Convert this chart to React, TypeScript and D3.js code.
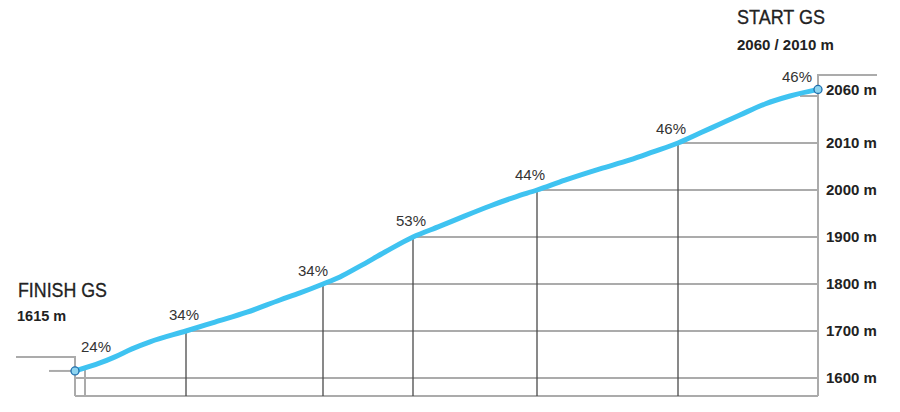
import React from "react";
import * as d3 from "d3";

// Course profile: distance from finish (schematic units) and elevation (m)
const profileDistance = [0, 25, 40, 57, 75, 111, 140, 172, 205, 225, 248, 265, 285, 310, 338, 365, 390, 415, 440, 462, 490, 525, 555, 578, 603, 625, 645, 665, 690, 715, 743];
const profileElevation = [1615, 1632, 1645, 1662, 1677, 1700, 1719, 1740, 1766, 1781, 1800, 1815, 1838, 1868, 1900, 1923, 1945, 1966, 1985, 2000, 2002.1, 2004.5, 2006.4, 2008.1, 2010, 2020.6, 2030.2, 2039.8, 2051.5, 2060, 2067];

// Elevation levels (schematic, evenly spaced)
const levelValues = [1600, 1700, 1800, 1900, 2000, 2010, 2060];
const levelLabels = ["1600 m", "1700 m", "1800 m", "1900 m", "2000 m", "2010 m", "2060 m"];
const levelStart = [0, 111, 248, 338, 462, 603, 725];

// Vertical markers
const markerDistance = [10, 111, 248, 338, 462, 603];

// Gradient labels
const slopeLabels = ["24%", "34%", "34%", "53%", "44%", "46%", "46%"];
const slopeDistance = [21, 109, 238, 336, 455, 596, 722];

const finishTitle = "FINISH GS";
const finishSub = "1615 m";
const startTitle = "START GS";
const startSub = "2060 / 2010 m";

const W = 900;
const H = 412;

export default function App() {
  const x = d3.scaleLinear().domain([0, 743]).range([75, 818]);
  const step = 47;
  const yBottom = 378;
  const y = d3
    .scaleLinear()
    .domain(levelValues)
    .range(levelValues.map((_, i) => yBottom - i * step));

  const pts: [number, number][] = profileDistance.map((d, i) => [x(d), y(profileElevation[i])]);
  const line = d3.line<[number, number]>().x((d) => d[0]).y((d) => d[1]).curve(d3.curveMonotoneX);

  const profileY = (px: number) => {
    const xs = pts.map((p) => p[0]);
    const i = Math.max(1, Math.min(pts.length - 1, d3.bisectLeft(xs, px)));
    const [x0, y0] = pts[i - 1];
    const [x1, y1] = pts[i];
    const t = (px - x0) / (x1 - x0);
    return y0 + t * (y1 - y0);
  };

  const baseY = 396;
  const right = x(743);
  const gridColor = "#ababab";
  const darkColor = "#4a4a4a";
  const textColor = "#222";
  const sans = "'Liberation Sans', Arial, Helvetica, sans-serif";
  const endPt = pts[pts.length - 1];
  const startPt = pts[0];

  return (
    <svg
      width={W}
      height={H}
      viewBox={`0 0 ${W} ${H}`}
      style={{ position: "absolute", left: 0, top: 0, background: "#fff" }}
    >
      {/* horizontal level lines */}
      {levelValues.map((v, i) => (
        <line
          key={"g" + v}
          x1={x(levelStart[i])}
          x2={right}
          y1={y(v)}
          y2={y(v)}
          stroke={gridColor}
          strokeWidth={2}
        />
      ))}
      {/* bottom line */}
      <line x1={x(0)} x2={right} y1={baseY} y2={baseY} stroke={gridColor} strokeWidth={2} />
      {/* left frame */}
      <polyline
        points={`16,357 ${x(0)},357 ${x(0)},${baseY}`}
        fill="none"
        stroke={gridColor}
        strokeWidth={2}
      />
      <line x1={49} x2={x(0)} y1={startPt[1]} y2={startPt[1]} stroke={gridColor} strokeWidth={2} />
      {/* right frame */}
      <polyline
        points={`877,75 ${right},75 ${right},${baseY}`}
        fill="none"
        stroke={gridColor}
        strokeWidth={2}
      />
      {/* vertical markers */}
      {markerDistance.map((d, i) => (
        <line
          key={"m" + i}
          x1={x(d)}
          x2={x(d)}
          y1={profileY(x(d))}
          y2={baseY}
          stroke={i === 0 ? gridColor : darkColor}
          strokeWidth={i === 0 ? 2 : 1.3}
        />
      ))}
      {/* profile */}
      <path d={line(pts) || ""} fill="none" stroke="#3fc3f1" strokeWidth={5} strokeLinecap="round" strokeLinejoin="round" />
      <circle cx={startPt[0]} cy={startPt[1]} r={4} fill="#8fd4ef" stroke="#1f6fae" strokeWidth={1.3} />
      <circle cx={endPt[0]} cy={endPt[1]} r={4} fill="#8fd4ef" stroke="#1f6fae" strokeWidth={1.3} />
      {/* slope labels */}
      {slopeLabels.map((s, i) => {
        const px = x(slopeDistance[i]);
        return (
          <text
            key={"s" + i}
            x={px}
            y={profileY(px) - 12}
            textAnchor="middle"
            fontFamily={sans}
            fontSize={15}
            fill="#333"
          >
            {s}
          </text>
        );
      })}
      {/* level labels */}
      {levelLabels.map((l, i) => (
        <text
          key={"l" + i}
          x={826}
          y={i === levelLabels.length - 1 ? endPt[1] : y(levelValues[i])}
          dy="0.36em"
          fontFamily={sans}
          fontSize={15}
          fontWeight="bold"
          fill={textColor}
        >
          {l}
        </text>
      ))}
      {/* titles */}
      <text
        x={18}
        y={297}
        fontFamily={sans}
        fontSize={20}
        textLength={89}
        lengthAdjust="spacingAndGlyphs"
        fill={textColor}
        stroke={textColor}
        strokeWidth={0.3}
      >
        {finishTitle}
      </text>
      <text x={17} y={321} fontFamily={sans} fontSize={14.5} fontWeight="bold" fill={textColor}>
        {finishSub}
      </text>
      <text
        x={737}
        y={24}
        fontFamily={sans}
        fontSize={20}
        textLength={88}
        lengthAdjust="spacingAndGlyphs"
        fill={textColor}
        stroke={textColor}
        strokeWidth={0.3}
      >
        {startTitle}
      </text>
      <text x={737} y={50} fontFamily={sans} fontSize={15} fontWeight="bold" fill={textColor}>
        {startSub}
      </text>
    </svg>
  );
}
